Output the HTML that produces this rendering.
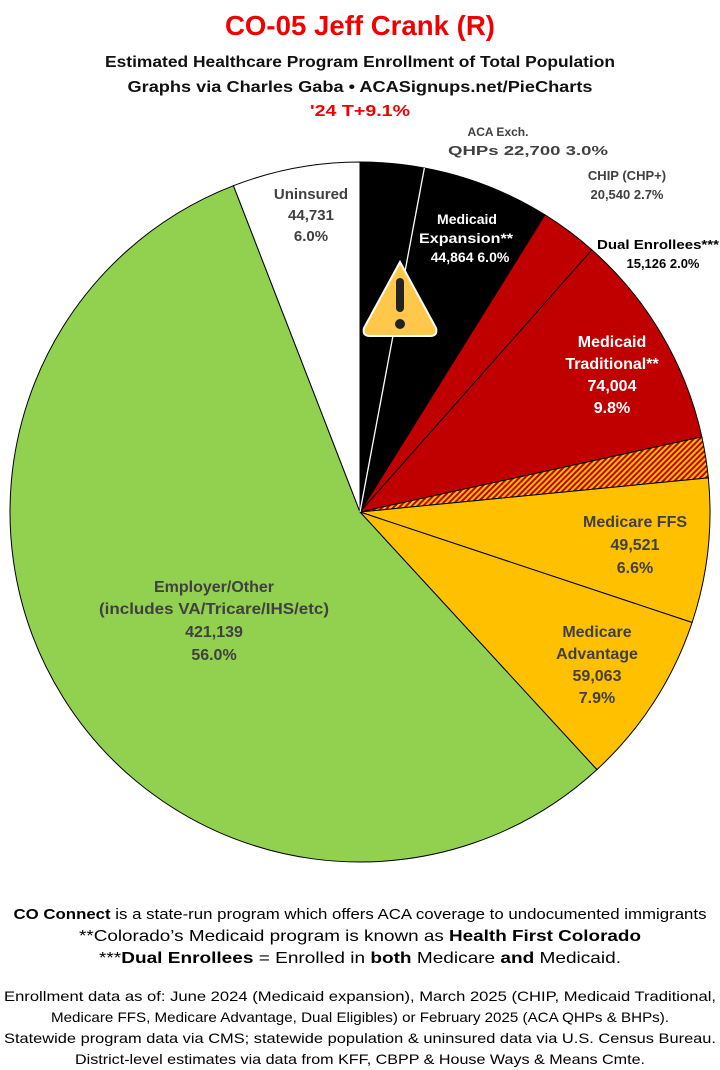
<!DOCTYPE html><html><head><style>body{margin:0;background:#fff}svg{display:block}text{font-family:"Liberation Sans",sans-serif}</style></head><body>
<svg id="s" width="720" height="1070" xmlns="http://www.w3.org/2000/svg">
<defs><pattern id="h" width="4" height="4" patternUnits="userSpaceOnUse" patternTransform="rotate(45)"><rect width="4" height="4" fill="#ffc000"/><rect width="2" height="4" fill="#c00000"/></pattern></defs>
<g id="pie"></g>
<g font-weight="bold" text-anchor="middle">
<text x="360" y="35" font-size="28" fill="#f00000" textLength="270" lengthAdjust="spacingAndGlyphs">CO-05 Jeff Crank (R)</text>
<text x="360" y="67" font-size="16" fill="#111" textLength="510" lengthAdjust="spacingAndGlyphs">Estimated Healthcare Program Enrollment of Total Population</text>
<text x="360" y="92" font-size="16" fill="#111" textLength="465" lengthAdjust="spacingAndGlyphs">Graphs via Charles Gaba  •  ACASignups.net/PieCharts</text>
<text x="360" y="116" font-size="16" fill="#f00000" textLength="100" lengthAdjust="spacingAndGlyphs">'24 T+9.1%</text>
<g font-size="14" fill="#404040">
<text x="498" y="136" font-size="12">ACA Exch.</text>
<text x="528" y="155" font-size="13" textLength="160" lengthAdjust="spacingAndGlyphs">QHPs 22,700 3.0%</text>
<text x="627" y="180" font-size="13">CHIP (CHP+)</text>
<text x="627" y="199" font-size="13">20,540 2.7%</text>
<text x="658" y="249" font-size="13" fill="#000" textLength="122" lengthAdjust="spacingAndGlyphs">Dual Enrollees***</text>
<text x="663" y="268" font-size="13" fill="#000">15,126 2.0%</text>
<text x="311" y="199" font-size="15">Uninsured</text><text x="311" y="220" font-size="15">44,731</text><text x="311" y="241" font-size="15">6.0%</text>
<g fill="#fff" font-size="14"><text x="467" y="224">Medicaid</text><text x="466" y="243" textLength="94" lengthAdjust="spacingAndGlyphs">Expansion**</text><text x="470" y="262">44,864 6.0%</text></g>
<g fill="#fff" font-size="16"><text x="612" y="347">Medicaid</text><text x="612" y="369">Traditional**</text><text x="612" y="391">74,004</text><text x="612" y="413">9.8%</text></g>
<g font-size="16"><text x="635" y="527">Medicare FFS</text><text x="635" y="550">49,521</text><text x="635" y="573">6.6%</text></g>
<g font-size="16"><text x="597" y="637">Medicare</text><text x="597" y="659">Advantage</text><text x="597" y="681">59,063</text><text x="597" y="703">7.9%</text></g>
<g font-size="16"><text x="214" y="592">Employer/Other</text><text x="214" y="614" textLength="230" lengthAdjust="spacingAndGlyphs">(includes VA/Tricare/IHS/etc)</text><text x="214" y="637">421,139</text><text x="214" y="660">56.0%</text></g>
</g>
</g>
<g transform="translate(400,300)"><path d="M0,-38 L36,28 Q38,36 30,36 L-30,36 Q-38,36 -36,28 Z" fill="#ffc84a" stroke="#fff" stroke-width="2"/><rect x="-4" y="-22" width="8" height="34" rx="4" fill="#222"/><circle cx="0" cy="24" r="5" fill="#222"/></g>
<g text-anchor="middle" font-size="15" fill="#000">
<text x="360" y="919" textLength="693" lengthAdjust="spacingAndGlyphs"><tspan font-weight="bold">CO Connect</tspan> is a state-run program which offers ACA coverage to undocumented immigrants</text>
<text x="360" y="941" font-size="16" textLength="562" lengthAdjust="spacingAndGlyphs">**Colorado’s Medicaid program is known as <tspan font-weight="bold">Health First Colorado</tspan></text>
<text x="360" y="963" font-size="16" textLength="522" lengthAdjust="spacingAndGlyphs">***<tspan font-weight="bold">Dual Enrollees</tspan> = Enrolled in <tspan font-weight="bold">both</tspan> Medicare <tspan font-weight="bold">and</tspan> Medicaid.</text>
<g font-size="14"><text x="360" y="1001" textLength="712" lengthAdjust="spacingAndGlyphs">Enrollment data as of: June 2024 (Medicaid expansion), March 2025 (CHIP, Medicaid Traditional,</text>
<text x="360" y="1022" textLength="618" lengthAdjust="spacingAndGlyphs">Medicare FFS, Medicare Advantage, Dual Eligibles) or February 2025 (ACA QHPs &amp; BHPs).</text>
<text x="360" y="1043" textLength="712" lengthAdjust="spacingAndGlyphs">Statewide program data via CMS; statewide population &amp; uninsured data via U.S. Census Bureau.</text>
<text x="360" y="1064" textLength="570" lengthAdjust="spacingAndGlyphs">District-level estimates via data from KFF, CBPP &amp; House Ways &amp; Means Cmte.</text></g>
</g>
</svg>
<script>
var cx=360,cy=512,r=350,g=document.getElementById('pie');
var sl=[[0,10.6,'#000','#fff'],[10.6,31.9,'#000','#000'],[31.9,41.5,'#c00000','#000'],[41.5,77.6,'#c00000','#000'],[77.6,84.4,'url(#h)','#000'],[84.4,108.4,'#ffc000','#000'],[108.4,137.4,'#ffc000','#000'],[137.4,338.8,'#92d050','#000'],[338.8,360,'#fff','#000']];
function p(a){a=a*Math.PI/180;return (cx+r*Math.sin(a)).toFixed(2)+','+(cy-r*Math.cos(a)).toFixed(2);}
var h='';sl.forEach(function(s){h+='<path d="M'+cx+','+cy+' L'+p(s[0])+' A'+r+','+r+' 0 '+((s[1]-s[0])>180?1:0)+' 1 '+p(s[1])+' Z" fill="'+s[2]+'" stroke="#000" stroke-width="1"/>';});
h+='<line x1="'+cx+'" y1="'+cy+'" x2="'+p(10.6).split(',')[0]+'" y2="'+p(10.6).split(',')[1]+'" stroke="#fff" stroke-width="1.3"/>';
g.innerHTML=h;
</script>
</body></html>
